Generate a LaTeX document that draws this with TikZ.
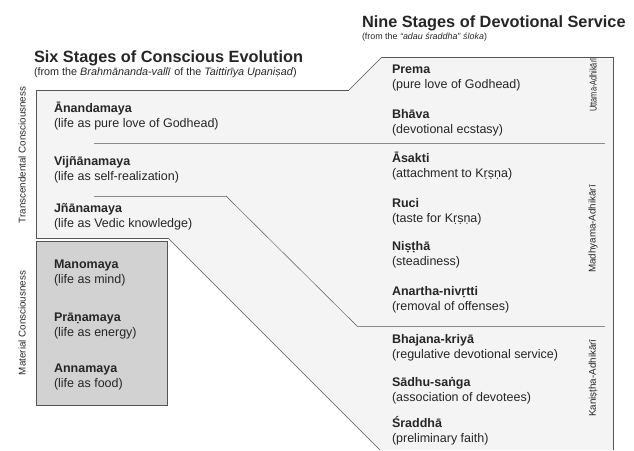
\documentclass[tikz,border=0pt]{standalone}
\usepackage{fontspec}
\setmainfont{Liberation Sans}
\usepackage{graphicx}
\definecolor{txt}{HTML}{262626}
\definecolor{lightfill}{HTML}{F4F4F4}
\definecolor{matfill}{HTML}{D2D2D2}
\definecolor{edge}{HTML}{555555}
\definecolor{divider}{HTML}{8A8A8A}
\begin{document}
\begin{tikzpicture}[x=1pt,y=-1pt,
  every node/.style={inner sep=0pt,outer sep=0pt,text=txt},
  ttl/.style={anchor=base west,font=\fontsize{12.5}{14}\selectfont\bfseries},
  sub/.style={anchor=base west,font=\fontsize{12.5}{14}\selectfont},
  head/.style={anchor=base west,font=\fontsize{16.3}{19}\selectfont\bfseries},
  headsub/.style={anchor=base west,font=\fontsize{#1}{11}\selectfont},
  side/.style={rotate=90,font=\fontsize{9.8}{11}\selectfont},
  outline/.style={draw=edge,line width=0.8pt},
  thin/.style={draw=edge,line width=0.45pt},
  divline/.style={draw=divider,line width=0.9pt}]
\useasboundingbox (0,0) rectangle (634,450);
% light region
\fill[lightfill] (36,90) -- (349,90) -- (382,57) -- (613,57) -- (613,450) -- (380,450) -- (168,238) -- (36,238) -- cycle;
\coordinate (a1) at (36,238);
\coordinate (a2) at (36,90);
\coordinate (a3) at (349,90);
\coordinate (a4) at (382,57);
\coordinate (a5) at (613,57);
\coordinate (a6) at (613,450);
\coordinate (d1) at (168,238);
\coordinate (d2) at (380,450);
\draw[outline] (d1) -- (a1) -- (a2) -- (a3);
\draw[thin] (a3) -- (a4);
\draw[outline] (a4) -- (a5) -- (a6);
\draw[thin] (d1) -- (d2);
% dividers
\coordinate (l1a) at (94,143);
\coordinate (l1b) at (605,143);
\draw[divline] (l1a) -- (l1b);
\coordinate (l2a) at (94,196);
\coordinate (l2b) at (226,196);
\coordinate (l2c) at (357,326);
\coordinate (l2d) at (605,326);
\draw[divline] (l2a) -- (l2b);
\draw[thin] (l2b) -- (l2c);
\draw[divline] (l2c) -- (l2d);
% material box
\node[draw=edge,line width=0.8pt,fill=matfill,minimum width=131pt,minimum height=164pt,anchor=north west] (mat) at (36,241) {};
% headings
\node[head] (h1) at (34,62) {Six Stages of Conscious Evolution};
\node[headsub=10.8] (h1s) at (34,75) {(from the \textit{Brahmānanda-vallī} of the \textit{Taittirīya Upaniṣad})};
\node[head] (h2) at (362,27) {Nine Stages of Devotional Service};
\node[headsub=8.9] (h2s) at (362,39) {(from the \textit{“adau śraddha”} \textit{śloka})};
% left entries
\node[ttl] (e1) at (54,112) {Ānandamaya};
\node[sub] (e1s) at (54,127.5) {(life as pure love of Godhead)};
\node[ttl] (e2) at (54,165) {Vijñānamaya};
\node[sub] (e2s) at (54,180) {(life as self-realization)};
\node[ttl] (e3) at (54,212) {Jñānamaya};
\node[sub] (e3s) at (54,227) {(life as Vedic knowledge)};
\node[ttl] (e4) at (54,268) {Manomaya};
\node[sub] (e4s) at (54,283) {(life as mind)};
\node[ttl] (e5) at (54,321) {Prāṇamaya};
\node[sub] (e5s) at (54,336) {(life as energy)};
\node[ttl] (e6) at (54,372) {Annamaya};
\node[sub] (e6s) at (54,387) {(life as food)};
% right entries
\node[ttl] (r1) at (392,73) {Prema};
\node[sub] (r1s) at (392,88) {(pure love of Godhead)};
\node[ttl] (r2) at (392,118) {Bhāva};
\node[sub] (r2s) at (392,133) {(devotional ecstasy)};
\node[ttl] (r3) at (392,162) {Āsakti};
\node[sub] (r3s) at (392,177) {(attachment to Kṛṣṇa)};
\node[ttl] (r4) at (392,207) {Ruci};
\node[sub] (r4s) at (392,222) {(taste for Kṛṣṇa)};
\node[ttl] (r5) at (392,250) {Niṣṭhā};
\node[sub] (r5s) at (392,265) {(steadiness)};
\node[ttl] (r6) at (392,295) {Anartha-nivṛtti};
\node[sub] (r6s) at (392,310) {(removal of offenses)};
\node[ttl] (r7) at (392,343) {Bhajana-kriyā};
\node[sub] (r7s) at (392,358) {(regulative devotional service)};
\node[ttl] (r8) at (392,386) {Sādhu-saṅga};
\node[sub] (r8s) at (392,401) {(association of devotees)};
\node[ttl] (r9) at (392,427) {Śraddhā};
\node[sub] (r9s) at (392,442) {(preliminary faith)};
% side labels
\node[side] (s1) at (22,155) {Transcendental Consciousness};
\node[side] (s2) at (22,323) {Material Consciousness};
\node[side] (s3) at (593,85) {\scalebox{0.75}[1]{Uttama-Adhikārī}};
\node[side] (s4) at (593,229) {Madhyama-Adhikārī};
\node[side] (s5) at (593,378) {Kaniṣṭha-Adhikārī};
\end{tikzpicture}
\end{document}
